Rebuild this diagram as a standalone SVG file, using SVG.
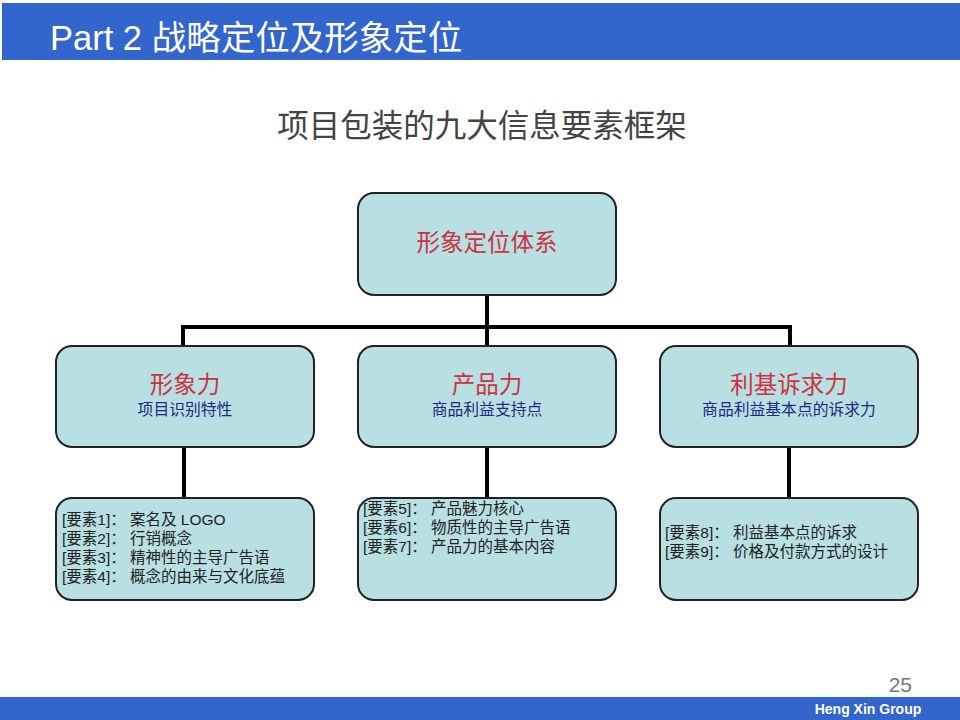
<svg xmlns="http://www.w3.org/2000/svg" width="960" height="720" viewBox="0 0 960 720">
<style>
.box{fill:#b8dfe2;stroke:#222;stroke-width:2}
.con{stroke:#000;stroke-width:4;fill:none}
.red{font-family:"Liberation Serif","Noto Sans CJK SC",serif;fill:#cc3340;font-size:23.5px;text-anchor:middle}
.blue{font-family:"Liberation Sans","Noto Sans CJK SC",sans-serif;fill:#1a2a80;font-size:15.8px;text-anchor:middle}
.item{font-family:"Liberation Sans","Noto Sans CJK SC",sans-serif;fill:#222;font-size:15.5px}
</style>
<rect x="0" y="0" width="960" height="720" fill="#fff"/>
<rect x="2" y="3" width="958" height="57" fill="#3366cc"/>
<text x="50" y="50" font-family="Liberation Sans,Noto Sans CJK SC,sans-serif" font-size="34.5" fill="#fff">Part 2 战略定位及形象定位</text>
<text x="482" y="137" text-anchor="middle" font-family="Liberation Sans,Noto Sans CJK SC,sans-serif" font-size="31.5" fill="#444">项目包装的九大信息要素框架</text>
<g id="connectors">
<path class="con" d="M487 295V327M183 327H790M183 325V346M487 327V346M790 325V346"/>
<path class="con" d="M184 447V498M487 447V498M789 447V498"/>
</g>
<g id="root">
<rect class="box" x="358" y="193" width="258" height="102" rx="16"/>
<text class="red" x="487" y="251">形象定位体系</text>
</g>
<g id="n1">
<rect class="box" x="56" y="346" width="258" height="101" rx="16"/>
<text class="red" x="185" y="393">形象力</text>
<text class="blue" x="185" y="415">项目识别特性</text>
</g>
<g id="n2">
<rect class="box" x="358" y="346" width="258" height="101" rx="16"/>
<text class="red" x="487" y="393">产品力</text>
<text class="blue" x="487" y="415">商品利益支持点</text>
</g>
<g id="n3">
<rect class="box" x="660" y="346" width="258" height="101" rx="16"/>
<text class="red" x="789" y="393">利基诉求力</text>
<text class="blue" x="789" y="415">商品利益基本点的诉求力</text>
</g>
<g id="e1">
<rect class="box" x="56" y="498" width="258" height="102" rx="16"/>
<text class="item" x="62" y="525">[要素1]：  案名及 LOGO</text>
<text class="item" x="62" y="544">[要素2]：  行销概念</text>
<text class="item" x="62" y="563">[要素3]：  精神性的主导广告语</text>
<text class="item" x="62" y="582">[要素4]：  概念的由来与文化底蕴</text>
</g>
<g id="e2">
<rect class="box" x="358" y="498" width="258" height="102" rx="16"/>
<text class="item" x="363" y="514">[要素5]：  产品魅力核心</text>
<text class="item" x="363" y="533">[要素6]：  物质性的主导广告语</text>
<text class="item" x="363" y="552">[要素7]：  产品力的基本内容</text>
</g>
<g id="e3">
<rect class="box" x="660" y="498" width="258" height="102" rx="16"/>
<text class="item" x="665" y="538">[要素8]：  利益基本点的诉求</text>
<text class="item" x="665" y="557">[要素9]：  价格及付款方式的设计</text>
</g>
<text x="912" y="692" text-anchor="end" font-family="Liberation Sans,sans-serif" font-size="21" fill="#777">25</text>
<rect x="0" y="697" width="960" height="23" fill="#3366cc"/>
<text x="868" y="714" text-anchor="middle" font-family="Liberation Sans,sans-serif" font-size="14" font-weight="bold" fill="#fff">Heng Xin Group</text>
</svg>
